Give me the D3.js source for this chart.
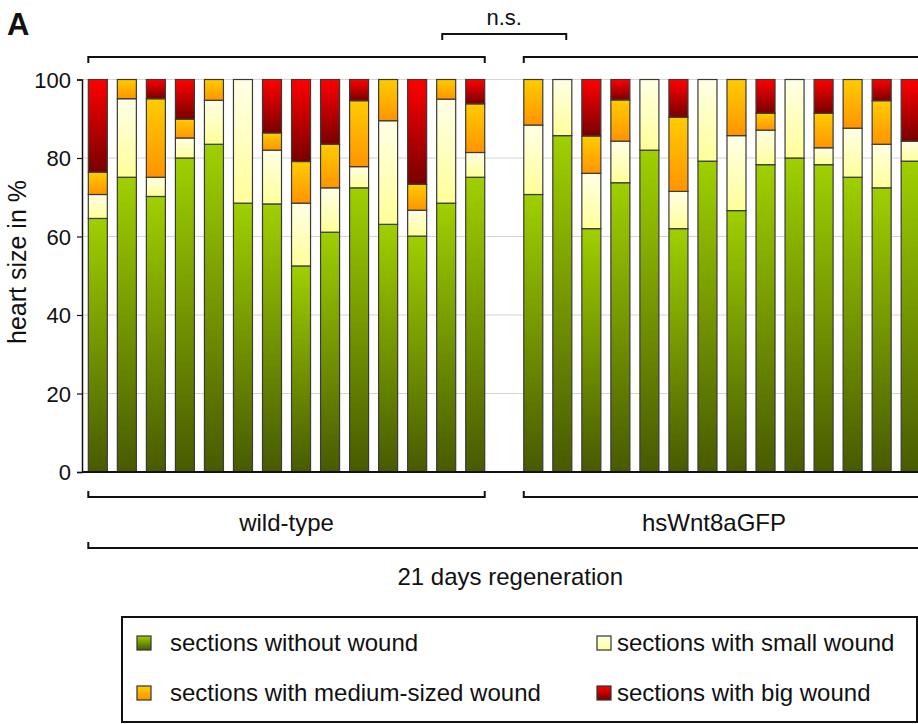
<!DOCTYPE html>
<html>
<head>
<meta charset="utf-8">
<script src="https://cdn.jsdelivr.net/npm/d3@7"></script>
<style>
  body { margin: 0; background: #fff; }
  text { font-family: "Liberation Sans", Arial, sans-serif; fill: #111; }
</style>
</head>
<body>
<div id="chart"></div>
<script>
// values, percent of heart size per animal
var groups = ["wild-type", "hsWnt8aGFP"];
var seriesNames = ["sections without wound", "sections with small wound",
                   "sections with medium-sized wound", "sections with big wound"];
var yTicks = [0, 20, 40, 60, 80, 100];

var wtNoWound = [64.6, 75.1, 70.2, 80.0, 83.5, 68.5, 68.3, 52.5, 61.1, 72.4, 63.1, 60.1, 68.5, 75.1];
var wtSmall   = [6.1, 20.0, 4.9, 5.1, 11.2, 31.5, 13.7, 16.0, 11.3, 5.4, 26.4, 6.6, 26.5, 6.3];
var wtMedium  = [5.7, 4.9, 20.0, 4.8, 5.3, 0, 4.4, 10.6, 11.1, 16.8, 10.5, 6.6, 5.0, 12.4];
var wtBig     = [23.6, 0, 4.9, 10.1, 0, 0, 13.6, 20.9, 16.5, 5.4, 0, 26.7, 0, 6.2];

var hsNoWound = [70.7, 85.7, 62.0, 73.7, 82.0, 62.0, 79.2, 66.6, 78.3, 80.0, 78.3, 75.1, 72.4, 79.2];
var hsSmall   = [17.7, 14.3, 14.1, 10.6, 18.0, 9.5, 20.8, 19.1, 8.8, 20.0, 4.3, 12.5, 11.1, 5.1];
var hsMedium  = [11.6, 0, 9.5, 10.5, 0, 18.9, 0, 14.3, 4.3, 0, 8.8, 12.4, 11.1, 0];
var hsBig     = [0, 0, 14.4, 5.2, 0, 9.6, 0, 0, 8.6, 0, 8.6, 0, 5.4, 15.7];

var colors = [["#9fd000", "#485a00"], ["#ffffe6", "#ffff99"],
              ["#ffcc00", "#ff9400"], ["#ff0000", "#780000"]];

function build_rows(prefix, a, b, c, d) {
    return a.map(function(v, i) {
        return { id: prefix + (i + 1), values: [v, b[i], c[i], d[i]] };
    });
}

var wtRows = build_rows("wt", wtNoWound, wtSmall, wtMedium, wtBig);
var hsRows = build_rows("hs", hsNoWound, hsSmall, hsMedium, hsBig);
var rows = wtRows.concat([{ id: "gap", values: [0, 0, 0, 0] }], hsRows);

var width = 918, height = 724;

var svg = d3.select("#chart").append("svg")
    .attr("width", width)
    .attr("height", height)
    .style("background-color", "white");

var defs = svg.append("defs");
colors.forEach(function(c, i) {
    var g = defs.append("linearGradient")
        .attr("id", "grad" + i)
        .attr("x1", 0).attr("y1", 0).attr("x2", 0).attr("y2", 1);
    g.append("stop").attr("offset", "0%").attr("stop-color", c[0]);
    g.append("stop").attr("offset", "100%").attr("stop-color", c[1]);
});

var x = d3.scaleBand()
    .domain(rows.map(function(d) { return d.id; }))
    .range([83.3, 925.2])
    .paddingInner(0.345)
    .paddingOuter(0.1725);

var y = d3.scaleLinear().domain([0, 100]).range([472, 79.5]);

// grid
svg.append("g").attr("class", "grid")
    .selectAll("line")
    .data(yTicks.filter(function(t) { return t > 0; }))
    .enter()
    .append("line")
    .attr("x1", 82).attr("x2", width)
    .attr("y1", function(d) { return y(d); })
    .attr("y2", function(d) { return y(d); })
    .attr("stroke", "#d4d4d4")
    .attr("stroke-width", 1);

// stacked bars
var stackData = rows.filter(function(d) { return d.id !== "gap"; }).map(function(d) {
    var o = { id: d.id };
    d.values.forEach(function(v, k) { o["s" + k] = v; });
    return o;
});
var stack = d3.stack().keys(["s0", "s1", "s2", "s3"]);
var layers = stack(stackData);

svg.append("g").attr("class", "bars")
    .selectAll("g")
    .data(layers)
    .enter()
    .append("g")
    .attr("fill", function(d, i) { return "url(#grad" + i + ")"; })
    .selectAll("rect")
    .data(function(d) { return d.filter(function(p) { return p[1] - p[0] > 0; }); })
    .enter()
    .append("rect")
    .attr("x", function(d) { return x(d.data.id); })
    .attr("y", function(d) { return y(d[1]); })
    .attr("width", x.bandwidth())
    .attr("height", function(d) { return y(d[0]) - y(d[1]); })
    .attr("stroke", "#3a3a3a")
    .attr("stroke-width", 1.2);

// y axis
var yAxis = svg.append("g")
    .attr("transform", "translate(82,0)")
    .call(d3.axisLeft(y).tickValues(yTicks).tickSize(5).tickPadding(6));
yAxis.select(".domain").attr("stroke", "#111").attr("stroke-width", 1.5);
yAxis.selectAll(".tick line").attr("stroke", "#111").attr("stroke-width", 1.2);
yAxis.selectAll(".tick text")
    .style("font-family", "Liberation Sans, Arial, sans-serif")
    .style("font-size", "22px")
    .attr("fill", "#111")
    .attr("dy", "0.36em");

// baseline
svg.append("line")
    .attr("x1", 82).attr("x2", width)
    .attr("y1", y(0)).attr("y2", y(0))
    .attr("stroke", "#111").attr("stroke-width", 1.8);

svg.append("text")
    .attr("transform", "translate(26,262) rotate(-90)")
    .style("text-anchor", "middle")
    .style("font-size", "25px")
    .text("heart size in %");

// brackets
function bracket(x1, x2, yy, dir) {
    svg.append("path")
        .attr("d", "M" + x1 + "," + (yy + dir * 6) + "V" + yy + "H" + x2 + "V" + (yy + dir * 6))
        .attr("fill", "none")
        .attr("stroke", "#111")
        .attr("stroke-width", 2);
}

var wtStart = x(wtRows[0].id), wtEnd = x(wtRows[wtRows.length - 1].id) + x.bandwidth();
var hsStart = x(hsRows[0].id), hsEnd = x(hsRows[hsRows.length - 1].id) + x.bandwidth();
var gapMid = x("gap") + x.bandwidth() / 2;

bracket(wtStart, wtEnd, 57, 1);
bracket(hsStart, hsEnd, 57, 1);
bracket(gapMid - 62, gapMid + 62, 34, 1);
svg.append("text")
    .attr("x", gapMid).attr("y", 25)
    .style("text-anchor", "middle")
    .style("font-size", "22px")
    .text("n.s.");

bracket(wtStart, wtEnd, 497, -1);
bracket(hsStart, hsEnd, 497, -1);
svg.append("text")
    .attr("x", (wtStart + wtEnd) / 2).attr("y", 531)
    .style("text-anchor", "middle")
    .style("font-size", "24px")
    .text(groups[0]);
svg.append("text")
    .attr("x", (hsStart + hsEnd) / 2 - 8).attr("y", 531)
    .style("text-anchor", "middle")
    .style("font-size", "24px")
    .text(groups[1]);

bracket(wtStart, hsEnd, 548, -1);
svg.append("text")
    .attr("x", (wtStart + hsEnd) / 2 + 6).attr("y", 585)
    .style("text-anchor", "middle")
    .style("font-size", "24px")
    .text("21 days regeneration");

svg.append("text")
    .attr("x", 7).attr("y", 35)
    .style("font-size", "31px")
    .style("font-weight", "bold")
    .text("A");

// legend
var legend = svg.append("g").attr("class", "legend");
legend.append("rect")
    .attr("x", 122).attr("y", 617)
    .attr("width", 795).attr("height", 105)
    .attr("fill", "white")
    .attr("stroke", "#111")
    .attr("stroke-width", 2);

var legendPos = [[137, 636], [597, 636], [137, 686], [597, 686]];
var legendOrder = [0, 1, 2, 3];
var items = legend.selectAll("g.item")
    .data(legendOrder)
    .enter()
    .append("g")
    .attr("class", "item")
    .attr("transform", function(d, i) { return "translate(" + legendPos[i][0] + "," + legendPos[i][1] + ")"; });
items.append("rect")
    .attr("width", 14).attr("height", 14)
    .attr("fill", function(d) { return "url(#grad" + d + ")"; })
    .attr("stroke", "#333")
    .attr("stroke-width", 1.2);
items.append("text")
    .attr("x", function(d, i) { return i % 2 === 0 ? 33 : 20; })
    .attr("y", 15)
    .style("font-size", "24px")
    .text(function(d) { return seriesNames[d]; });
</script>
</body>
</html>
